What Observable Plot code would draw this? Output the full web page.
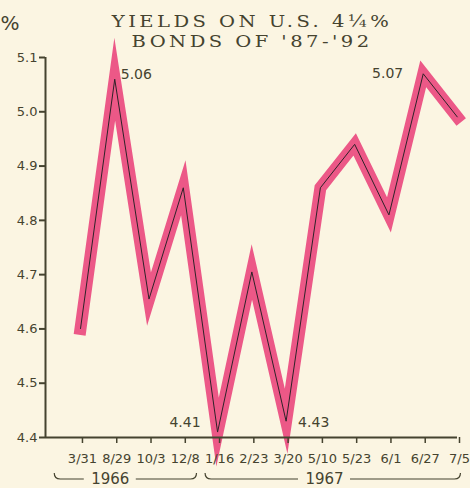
<!DOCTYPE html>
<html><head><meta charset="utf-8">
<script src="https://cdn.jsdelivr.net/npm/d3@7"></script>
<script src="https://cdn.jsdelivr.net/npm/@observablehq/plot@0.6"></script>
<style>
html,body{margin:0;padding:0;background:#fbf5e2;}
#chart{width:470px;height:488px;}
</style></head><body><div id="chart"></div>
<script>
// ---- data ----
const dates = ["3/31","8/29","10/3","12/8","1/16","2/23","3/20","5/10","5/23","6/1","6/27","7/5"];
const yields = [4.60, 5.06, 4.655, 4.86, 4.41, 4.705, 4.43, 4.86, 4.94, 4.81, 5.07, 4.99];
const yTicks = [4.4, 4.5, 4.6, 4.7, 4.8, 4.9, 5.0, 5.1];
const labelIdx = [1, 4, 6, 10];
const labelText = ["5.06", "4.41", "4.43", "5.07"];
const years = ["1966", "1967"];
const braceFrom = [-0.75, 3.65];
const braceTo = [3.4, 11.1];
const yearAt = [0.87, 7.12];
const titleLines = ["YIELDS ON U.S. 4¼%", "BONDS OF '87-'92"];

// ---- styles ----
const ink = "#45432f";
const pink = "#ea4a7f";
const labelOffsets = [[6,-5,"start"],[-17,-10,"end"],[12,1,"start"],[-20,0,"end"]];

const data = dates.map((d, i) => ({i, d, v: yields[i]}));

const chart = Plot.plot({
  width: 470, height: 488,
  marginTop: 57, marginLeft: 45, marginRight: 13, marginBottom: 51,
  style: {background: "#fbf5e2", fontFamily: "DejaVu Sans", color: ink, overflow: "visible"},
  x: {domain: [-1.02, 11], axis: null, label: null},
  y: {domain: [4.4, 5.1], axis: null, label: null},
  marks: [
    Plot.line(data, {x: "i", y: "v", stroke: pink, strokeWidth: 12, strokeLinejoin: "miter", strokeLinecap: "square", strokeMiterlimit: 10, strokeOpacity: 0.92}),
    Plot.line(data, {x: "i", y: "v", stroke: "#2e2228", strokeWidth: 1, strokeLinejoin: "miter", strokeLinecap: "butt"}),
    Plot.ruleX([-1.02], {y1: 4.4, y2: 5.1, stroke: ink, strokeWidth: 2}),
    Plot.ruleY([4.4], {x1: -1.02, x2: 11, stroke: ink, strokeWidth: 2}),
    Plot.axisY({ticks: yTicks, tickFormat: d => d.toFixed(1), tickSize: 6, stroke: ink, strokeWidth: 2, fill: ink, fontSize: 13, tickPadding: 2, label: null}),
    Plot.axisX({ticks: d3.range(dates.length), tickFormat: i => dates[i], tickSize: 6, stroke: ink, strokeWidth: 1.5, fill: ink, fontSize: 13, tickPadding: 10, dx: 2, label: null}),
    ...labelIdx.map((k, j) => Plot.text([k], {x: d => d, y: d => yields[d], text: () => labelText[j], dx: labelOffsets[j][0], dy: labelOffsets[j][1], textAnchor: labelOffsets[j][2], fill: ink, fontSize: 14})),
    Plot.text(years, {x: (d, j) => yearAt[j], y: () => 4.4, text: d => d, dy: 42, fill: ink, fontSize: 15})
  ]
});

const svg = d3.select(chart);
const xs = chart.scale("x");
// title
const tg = svg.append("g").attr("fill", ink).attr("text-anchor", "middle")
  .attr("transform", "translate(252,0) scale(1.15,1)")
  .style("font-family", "DejaVu Serif").style("font-size", "17px").style("letter-spacing", "3px");
titleLines.forEach((t, k) => tg.append("text").attr("x", 0).attr("y", 27 + k * 20).text(t));
svg.append("text").attr("x", 10).attr("y", 30).attr("fill", ink).style("font-size", "20px").style("font-family", "DejaVu Sans").text("%");
// braces
const by = 479;
years.forEach((yr, j) => {
  const a = xs.apply(braceFrom[j]), b = xs.apply(braceTo[j]), c = xs.apply(yearAt[j]);
  const p = `M${a},${by-6} Q${a},${by} ${a+6},${by} L${c-26},${by} M${c+26},${by} L${b-6},${by} Q${b},${by} ${b},${by-6}`;
  svg.append("path").attr("d", p).attr("fill", "none").attr("stroke", ink).attr("stroke-width", 1.2);
});
document.getElementById("chart").append(chart);
</script>
</body></html>
